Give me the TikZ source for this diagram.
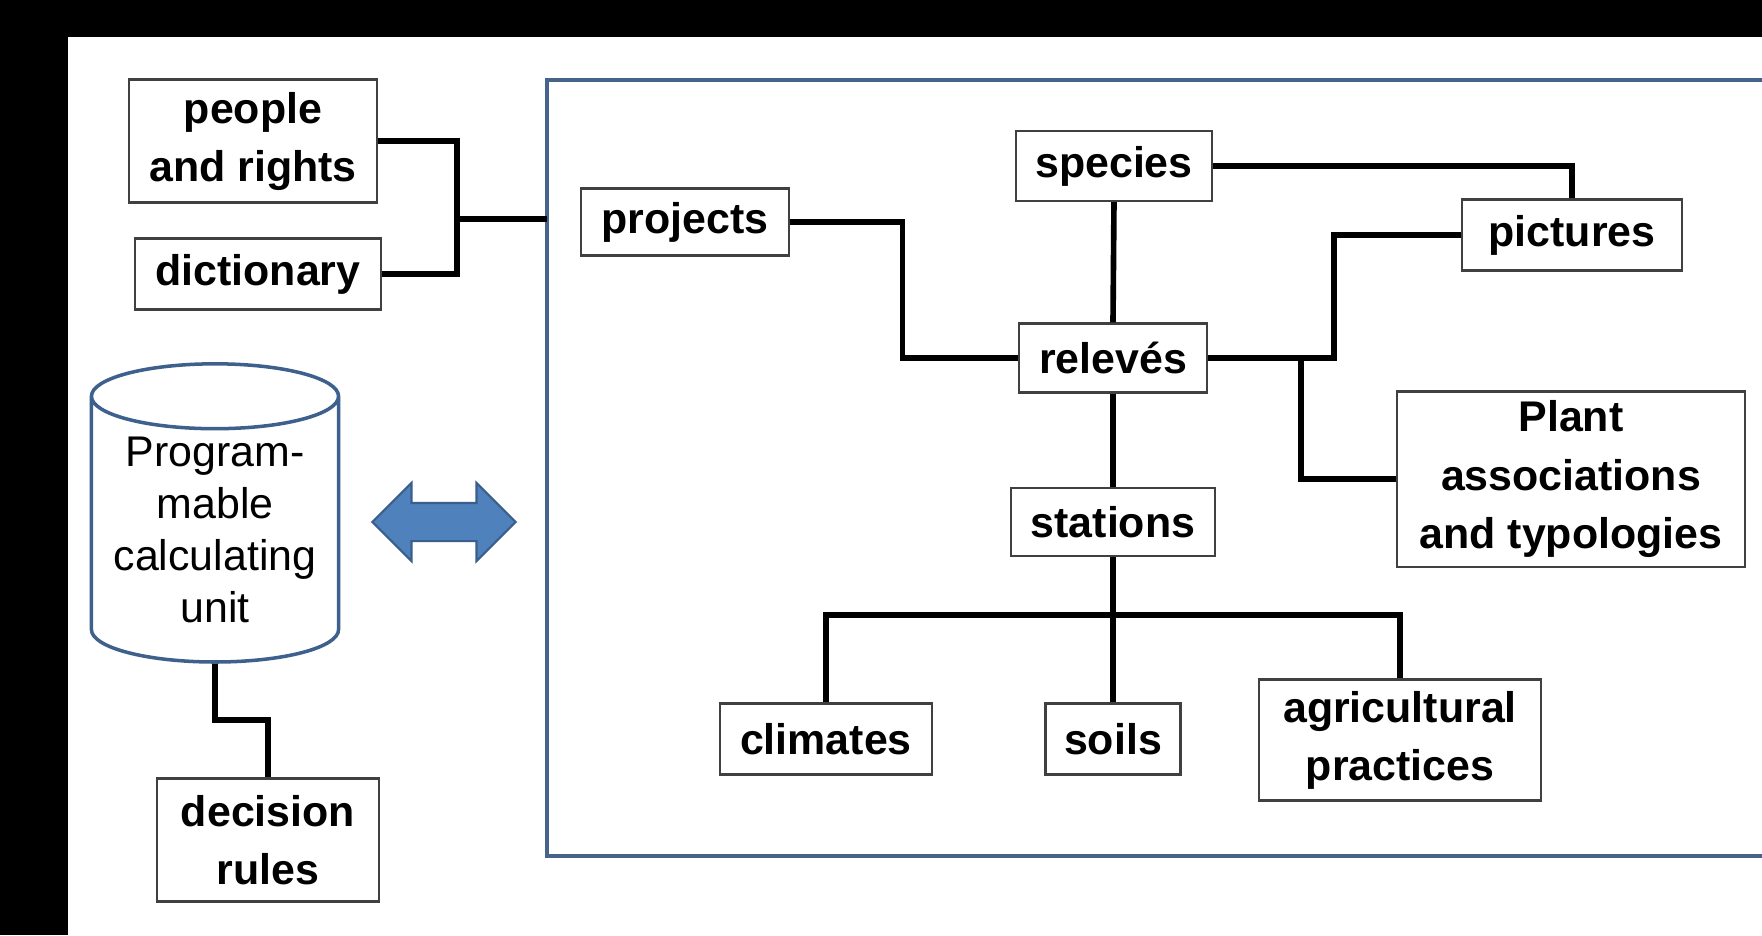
\documentclass[tikz,border=0pt]{standalone}
\usepackage{fontspec}
\setmainfont{Liberation Sans}
\usetikzlibrary{shapes,arrows,positioning}
\definecolor{dbframe}{RGB}{70,100,138}
\definecolor{unitblue}{RGB}{62,96,140}
\definecolor{arrowblue}{RGB}{79,129,189}
\definecolor{arrowedge}{RGB}{58,95,140}
\tikzstyle{entity} = [rectangle, draw=black!75, line width=0.6pt, fill=white, inner sep=0pt, align=center, font=\fontsize{12.2}{16.5}\selectfont\bfseries]
\tikzstyle{unit} = [cylinder, shape border rotate=90, aspect=0.32, draw=unitblue, line width=1pt, fill=white, minimum width=2.47cm, minimum height=2.98cm, inner sep=0pt, align=center, font=\fontsize{12.2}{14.8}\selectfont]
\tikzstyle{exchange} = [double arrow, fill=arrowblue, draw=arrowedge, line width=0.6pt, minimum height=1.43cm, inner xsep=0pt, inner ysep=0.18cm, double arrow head extend=0.2cm, double arrow tip angle=90]
\tikzstyle{link} = [line width=1.6pt, black]
\tikzstyle{frame} = [line width=1.2pt, draw=dbframe]

\begin{document}
\begin{tikzpicture}[x=0.01cm, y=-0.01cm]
\useasboundingbox (0,0) rectangle (1762,935);
\fill[white] (0,0) rectangle (1762,935);
% black margins
\fill[black] (0,0) rectangle (1762,37);
\fill[black] (0,0) rectangle (68,935);

% database frame
\draw[frame] (1762,80) -- (547,80) -- (547,856) -- (1762,856);

% outside the database
\node (people) [entity, minimum width=2.47cm, minimum height=1.23cm] at (253,141) {people\\and rights};
\node (dict) [entity, minimum width=2.45cm, minimum height=0.71cm] at (258,274) {dictionary};
\node (calc) [unit] at (215,530) {Program-\\mable\\calculating\\unit};
\node (xchg) [exchange] at (444,522) {};
\node (rules) [entity, minimum width=2.21cm, minimum height=1.23cm] at (268,840) {decision\\rules};

% inside the database
\node (projects) [entity, minimum width=2.07cm, minimum height=0.67cm] at (685,222) {projects};
\node (species) [entity, minimum width=1.96cm, minimum height=0.70cm] at (1114,166) {species};
\node (releves) [entity, minimum width=1.88cm, minimum height=0.69cm] at (1113,358) {relevés};
\node (pictures) [entity, minimum width=2.20cm, minimum height=0.71cm] at (1572,235) {pictures};
\node (plant) [entity, minimum width=3.47cm, minimum height=1.75cm] at (1571,479) {Plant\\associations\\and typologies};
\node (stations) [entity, minimum width=2.03cm, minimum height=0.68cm] at (1113,522) {stations};
\node (climates) [entity, minimum width=2.11cm, minimum height=0.71cm] at (826,739) {climates};
\node (soils) [entity, minimum width=1.35cm, minimum height=0.71cm] at (1113,739) {soils};
\node (agri) [entity, minimum width=2.81cm, minimum height=1.21cm] at (1400,740) {agricultural\\practices};

% links
\coordinate (hub) at (457,219);
\coordinate (dbin) at (547,219);
\draw[link] (people.east) -| (hub);
\draw[link] (dict.east) -| (hub);
\draw[link] (hub) -- (dbin);
\draw[link] (calc.south) -- (215,720) -| (rules.north);

\draw[link] (projects.east) -- ++(113,0) |- (releves.west);
\draw[link] (species.east) -| (pictures.north);
\draw[link] (species.south) -- (releves.north);
\draw[link] (releves.south) -- (stations.north);
\draw[link] (releves.east) -- ++(126,0) |- (pictures.west);
\coordinate (fork) at (1301,358);
\draw[link] (fork) |- (plant.west);
\coordinate (bus) at (1113,615);
\draw[link] (stations.south) -- (soils.north);
\draw[link] (climates.north) |- (bus) -| (agri.north);
\end{tikzpicture}
\end{document}
